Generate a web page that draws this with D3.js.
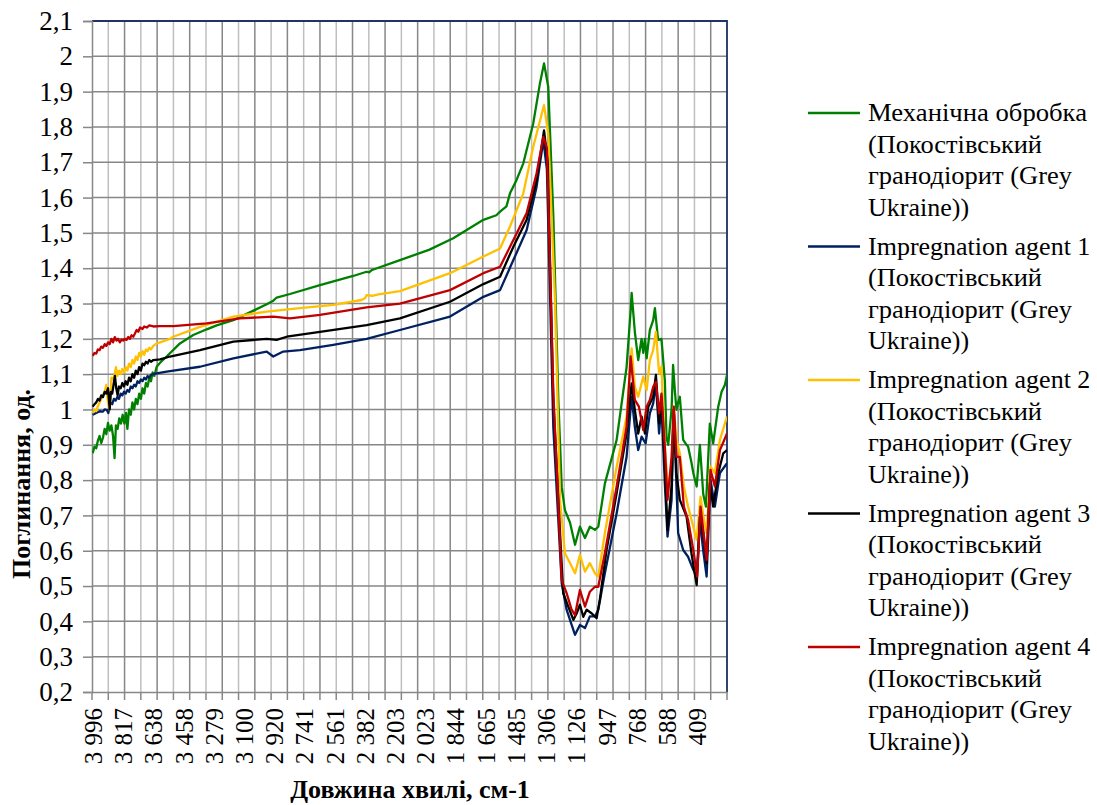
<!DOCTYPE html>
<html lang="uk">
<head>
  <meta charset="UTF-8">
  <title>Поглинання</title>
  <script src="https://d3js.org/d3.v7.min.js"></script>
  <style>
    body { margin: 0; background: #fff; }
    svg text { font-family: "Liberation Serif", "Times New Roman", serif; fill: #000; }
  </style>
</head>
<body>
  <svg id="chart" width="1097" height="805"></svg>

  <script>
    // x tick labels (wavenumbers, cm-1) and y tick labels
    const xLabels = ["3 996", "3 817", "3 638", "3 458", "3 279", "3 100", "2 920", "2 741", "2 561", "2 382",
      "2 203", "2 023", "1 844", "1 665", "1 485", "1 306", "1 126", "947", "768", "588", "409"];
    const yTicks = [0.2, 0.3, 0.4, 0.5, 0.6, 0.7, 0.8, 0.9, 1, 1.1, 1.2, 1.3, 1.4, 1.5, 1.6, 1.7, 1.8, 1.9, 2, 2.1];

    const seriesNames = [
      "Механічна обробка",
      "Impregnation agent 1",
      "Impregnation agent 2",
      "Impregnation agent 3",
      "Impregnation agent 4"
    ];
    const seriesColors = ["#008000", "#002060", "#ffc000", "#000000", "#c00000"];

    // Механічна обробка
    const mechWn = [3996, 3985, 3975, 3965, 3955, 3945, 3935, 3925, 3915, 3905, 3895, 3885, 3875, 3866, 3858, 3848, 3838,
      3828, 3818, 3808, 3798, 3790, 3780, 3770, 3760, 3750, 3740, 3730, 3720, 3710, 3700, 3690, 3680, 3670, 3660, 3650,
      3640, 3630, 3616, 3600, 3580, 3557, 3478,
      3399, 3319, 3260, 3161, 3063, 2963, 2924, 2904, 2825, 2647, 2450, 2370, 2355, 2338, 2172, 2000, 1856, 1677,
      1600, 1578, 1540, 1519, 1480, 1440, 1381, 1341, 1317, 1292, 1262, 1242, 1232, 1212, 1193, 1163, 1133, 1104,
      1074, 1045, 1015, 995, 956, 886, 827, 803, 797, 778, 758, 738, 728, 718, 708, 689, 669, 659, 640, 620, 600,
      590, 580, 560, 551, 540, 531, 521, 511, 491, 471, 462, 442, 431, 411, 392, 372, 356, 333, 313, 283, 263, 243, 231];
    const mechAbs = [0.876, 0.895, 0.89, 0.912, 0.925, 0.905, 0.92, 0.945, 0.93, 0.962, 0.94, 0.955, 0.925, 0.862, 0.955, 0.945, 0.975,
      0.96, 0.985, 0.96, 0.99, 0.945, 1.0, 0.985, 1.02, 1.0, 1.03, 1.015, 1.045, 1.03, 1.06, 1.045, 1.075, 1.065, 1.09, 1.08,
      1.105, 1.095, 1.121, 1.13, 1.14, 1.15, 1.187,
      1.211, 1.227, 1.238, 1.253, 1.275, 1.298, 1.308, 1.317, 1.327, 1.352, 1.378, 1.39, 1.388, 1.395, 1.423, 1.452, 1.485, 1.537,
      1.55, 1.56, 1.575, 1.612, 1.65, 1.697, 1.81, 1.924, 1.98, 1.914, 1.55, 1.2, 1.027, 0.78, 0.715, 0.68, 0.617, 0.668,
      0.636, 0.668, 0.659, 0.668, 0.79, 0.914, 1.12, 1.28, 1.33, 1.22, 1.14, 1.2, 1.16, 1.2, 1.145, 1.225, 1.253, 1.287, 1.197, 1.2, 1.083,
      0.92, 0.9, 1.0, 1.126, 1.05, 0.999, 1.02, 1.036, 0.914, 0.9, 0.895, 0.85, 0.82, 0.782, 0.9, 0.76, 0.725, 0.96, 0.904, 1.008, 1.05, 1.07, 1.098];

    // Impregnation agent 1
    const agent1Wn = [3996, 3975, 3955, 3935, 3925, 3913, 3903, 3893, 3880, 3870, 3860, 3850, 3840, 3830, 3820, 3810, 3800,
      3790, 3780, 3770, 3760, 3750, 3740, 3730, 3720, 3710, 3700, 3690, 3680, 3670, 3660, 3650, 3636, 3616, 3557,
      3359, 3161, 2963, 2924, 2865, 2766,
      2568, 2370, 2172, 1875, 1677, 1578, 1499, 1420, 1361, 1321, 1300, 1262, 1212, 1183, 1153, 1133, 1104, 1074, 1045,
      1015, 995, 956, 886, 827, 797, 778, 758, 738, 714, 689, 669, 653, 634, 620, 600, 584, 560, 547, 521, 491, 462, 431,
      411, 392, 372, 352, 329, 303, 273, 231];
    const agent1Abs = [0.985, 0.99, 0.995, 0.994, 1.0, 0.999, 0.99, 1.02, 1.015, 1.03, 1.025, 1.035, 1.03, 1.045, 1.04, 1.05, 1.045,
      1.055, 1.05, 1.065, 1.06, 1.07, 1.065, 1.08, 1.075, 1.085, 1.08, 1.09, 1.085, 1.095, 1.09, 1.098, 1.1, 1.102, 1.107,
      1.121, 1.145, 1.164, 1.15, 1.164, 1.168,
      1.183, 1.2, 1.225, 1.263, 1.319, 1.338, 1.423, 1.508, 1.631, 1.763, 1.68, 0.95, 0.508, 0.433, 0.39, 0.362, 0.39, 0.381, 0.414,
      0.414, 0.433, 0.536, 0.706, 0.866, 1.036, 0.951, 0.885, 0.923, 0.904, 0.989, 1.017, 1.074, 0.932, 1.017, 0.791, 0.64, 0.744, 0.999, 0.65, 0.602, 0.583, 0.546,
      0.527, 0.687, 0.6, 0.527, 0.801, 0.725, 0.82, 0.848];

    // Impregnation agent 2
    const agent2Wn = [3996, 3985, 3975, 3965, 3955, 3945, 3935, 3925, 3915, 3905, 3895, 3885, 3875, 3865, 3858, 3850, 3840,
      3830, 3820, 3810, 3800, 3790, 3780, 3770, 3760, 3750, 3740, 3730, 3720, 3710, 3700, 3690, 3680, 3670, 3660, 3650,
      3636, 3616, 3596, 3537, 3518,
      3359, 3161, 2963, 2766, 2568, 2400, 2380, 2370, 2338, 2300, 2172, 1875, 1677, 1578, 1519, 1440, 1381, 1317, 1292,
      1252, 1222, 1193, 1163, 1133, 1104, 1074, 1045, 1015, 995, 956, 886, 827, 797, 778, 758, 728, 708, 689, 669, 653,
      634, 620, 600, 584, 560, 547, 531, 511, 487, 462, 431, 411, 388, 372, 352, 329, 303, 273, 231];
    const agent2Abs = [0.99, 1.0, 0.995, 1.01, 1.02, 1.03, 1.04, 1.05, 1.07, 1.02, 1.0, 1.09, 1.085, 1.1, 1.12, 1.095, 1.11,
      1.1, 1.115, 1.105, 1.12, 1.11, 1.13, 1.12, 1.14, 1.13, 1.15, 1.14, 1.16, 1.15, 1.165, 1.155, 1.17, 1.165, 1.175, 1.17,
      1.18, 1.187, 1.19, 1.2, 1.206,
      1.234, 1.263, 1.277, 1.287, 1.296, 1.31, 1.315, 1.324, 1.322, 1.326, 1.335, 1.386, 1.433, 1.456, 1.518, 1.612, 1.744, 1.862, 1.78,
      1.31, 0.744, 0.593, 0.565, 0.536, 0.588, 0.541, 0.565, 0.536, 0.527, 0.65, 0.838, 0.98, 1.173, 1.064, 1.036, 1.093, 1.055, 1.14, 1.168, 1.22,
      1.102, 1.121, 0.895, 0.791, 0.82, 1.008, 0.914, 0.876, 0.782, 0.725, 0.668, 0.631, 0.753, 0.7, 0.65, 0.838, 0.82, 0.914, 0.98];

    // Impregnation agent 3
    const agent3Wn = [3996, 3985, 3975, 3965, 3955, 3945, 3935, 3925, 3915, 3905, 3895, 3888, 3880, 3872, 3864, 3856, 3848,
      3840, 3830, 3820, 3810, 3800, 3790, 3780, 3770, 3760, 3750, 3740, 3730, 3720, 3710, 3700, 3690, 3680, 3670, 3660,
      3650, 3636, 3596, 3537, 3359, 3161, 2963, 2904,
      2844, 2647, 2370, 2172, 1875, 1677, 1578, 1499, 1420, 1361, 1317, 1295, 1262, 1222, 1203, 1173, 1143, 1123, 1104, 1084,
      1064, 1035, 1005, 986, 946, 886, 827, 797, 778, 758, 738, 718, 698, 669, 653, 634, 620, 600, 584, 560, 547, 531, 511,
      471, 442, 411, 392, 372, 352, 333, 313, 283, 253, 231];
    const agent3Abs = [1.008, 1.015, 1.02, 1.03, 1.025, 1.04, 1.035, 1.05, 1.045, 1.06, 1.0, 1.05, 1.045, 1.07, 1.095, 1.06, 1.04,
      1.065, 1.06, 1.075, 1.065, 1.08, 1.07, 1.09, 1.08, 1.1, 1.09, 1.11, 1.1, 1.12, 1.11, 1.13, 1.125, 1.135, 1.13, 1.14,
      1.135, 1.14, 1.142, 1.15, 1.168, 1.192, 1.2, 1.197,
      1.206, 1.22, 1.239, 1.258, 1.305, 1.355, 1.376, 1.461, 1.537, 1.65, 1.79, 1.7, 1.027, 0.65, 0.48, 0.442, 0.404, 0.423, 0.447, 0.413,
      0.433, 0.423, 0.409, 0.461, 0.602, 0.763, 0.932, 1.074, 0.999, 0.932, 0.98, 0.932, 1.008, 1.036, 1.098, 0.961, 1.036, 0.838, 0.659, 0.782, 0.999, 0.82, 0.744,
      0.697, 0.593, 0.503, 0.697, 0.65, 0.565, 0.791, 0.725, 0.82, 0.876, 0.885];

    // Impregnation agent 4
    const agent4Wn = [3996, 3985, 3975, 3965, 3955, 3945, 3935, 3925, 3915, 3905, 3895, 3885, 3875, 3865, 3855, 3845, 3835,
      3825, 3815, 3805, 3795, 3785, 3775, 3765, 3755, 3745, 3735, 3725, 3715, 3700, 3690, 3675, 3660, 3636, 3600, 3518,
      3319, 3122, 2924, 2825, 2647,
      2370, 2172, 1875, 1677, 1578, 1499, 1420, 1361, 1321, 1300, 1262, 1212, 1183, 1153, 1133, 1104, 1074, 1045, 1015, 995,
      956, 886, 827, 803, 778, 754, 728, 708, 689, 669, 653, 634, 620, 600, 584, 560, 547, 531, 511, 487, 462, 431, 408,
      388, 372, 352, 329, 303, 273, 231];
    const agent4Abs = [1.152, 1.16, 1.158, 1.17, 1.168, 1.178, 1.175, 1.185, 1.18, 1.19, 1.185, 1.2, 1.19, 1.205, 1.195, 1.2, 1.19,
      1.198, 1.195, 1.2, 1.197, 1.205, 1.2, 1.21, 1.206, 1.215, 1.225, 1.22, 1.232, 1.228, 1.235, 1.232, 1.238, 1.235, 1.236, 1.236,
      1.244, 1.258, 1.263, 1.258, 1.268,
      1.289, 1.3, 1.338, 1.386, 1.404, 1.48, 1.556, 1.669, 1.772, 1.74, 1.05, 0.517, 0.48, 0.433, 0.418, 0.489, 0.442, 0.484, 0.498, 0.498,
      0.593, 0.782, 0.951, 1.15, 1.027, 1.008, 0.942, 1.008, 1.027, 1.064, 1.078, 0.989, 1.045, 0.895, 0.744, 0.866, 1.008, 0.866, 0.866, 0.725, 0.687, 0.602, 0.527,
      0.725, 0.66, 0.574, 0.829, 0.782, 0.885, 0.932];

    const seriesWn = [mechWn, agent1Wn, agent2Wn, agent3Wn, agent4Wn];
    const seriesAbs = [mechAbs, agent1Abs, agent2Abs, agent3Abs, agent4Abs];

    const plotLeft = 92, plotRight = 727, plotTop = 21, plotBottom = 692;

    const svg = d3.select("#chart");

    const x = d3.scaleLinear().domain([4000, 231]).range([plotLeft, plotRight]);
    const y = d3.scaleLinear().domain([0.2, 2.1]).range([plotBottom, plotTop]);
    // tick / gridline positions of the category axis (39 intervals, major every 2nd)
    const gridX = d3.scaleLinear().domain([0, 39]).range([plotLeft, plotRight]);
    const gridIdx = d3.range(0, 40);

    // vertical gridlines
    svg.append("g")
      .selectAll("line")
      .data(gridIdx.filter(i => i % 2 === 1))
      .join("line")
      .attr("x1", d => gridX(d)).attr("x2", d => gridX(d))
      .attr("y1", plotTop).attr("y2", plotBottom)
      .attr("stroke", "#bfbfbf").attr("stroke-width", 1.5);
    svg.append("g")
      .selectAll("line")
      .data(gridIdx.filter(i => i % 2 === 0 && i > 0))
      .join("line")
      .attr("x1", d => gridX(d)).attr("x2", d => gridX(d))
      .attr("y1", plotTop).attr("y2", plotBottom)
      .attr("stroke", "#878787").attr("stroke-width", 1.5);

    // horizontal gridlines
    svg.append("g")
      .selectAll("line")
      .data(yTicks.slice(1))
      .join("line")
      .attr("x1", plotLeft).attr("x2", plotRight)
      .attr("y1", d => y(d)).attr("y2", d => y(d))
      .attr("stroke", "#878787").attr("stroke-width", 1.5);

    // plot border (top / right)
    svg.append("path")
      .attr("d", `M${plotLeft},${plotTop}H${plotRight}V${plotBottom}`)
      .attr("fill", "none").attr("stroke", "#1f3368").attr("stroke-width", 1.8);

    // y axis
    const yAxis = svg.append("g")
      .attr("transform", `translate(${plotLeft},0)`)
      .call(d3.axisLeft(y).tickValues(yTicks).tickSize(9).tickPadding(10)
        .tickFormat(d => String(d).replace(".", ",")));
    yAxis.select(".domain").attr("stroke", "#878787").attr("stroke-width", 1.5);
    yAxis.selectAll(".tick line").attr("stroke", "#878787").attr("stroke-width", 1.5);
    yAxis.selectAll("text").attr("font-size", 27).attr("font-family", "Liberation Serif").attr("fill", "#000");

    // x axis: tick marks at grid positions
    svg.append("g")
      .selectAll("line")
      .data(gridIdx)
      .join("line")
      .attr("x1", d => gridX(d)).attr("x2", d => gridX(d))
      .attr("y1", plotBottom).attr("y2", plotBottom + 8)
      .attr("stroke", "#878787").attr("stroke-width", 1.5);

    const xAxis = svg.append("g")
      .attr("transform", `translate(0,${plotBottom})`)
      .call(d3.axisBottom(x)
        .tickValues(xLabels.map(s => +s.replace(/\s/g, "")))
        .tickSize(0)
        .tickFormat((d, i) => xLabels[i]));
    xAxis.select(".domain").attr("stroke", "#878787").attr("stroke-width", 1.5);
    xAxis.selectAll("text")
      .attr("font-size", 25).attr("font-family", "Liberation Serif").attr("fill", "#000")
      .attr("text-anchor", "end")
      .attr("transform", "rotate(-90)")
      .attr("x", -16).attr("y", 0).attr("dy", "0.35em");

    // series lines
    const line = d3.line()
      .x(d => x(d[0]))
      .y(d => y(d[1]))
      .curve(d3.curveLinear);

    svg.append("clipPath").attr("id", "clip")
      .append("rect").attr("x", plotLeft).attr("y", plotTop - 2)
      .attr("width", plotRight - plotLeft).attr("height", plotBottom - plotTop + 4);

    svg.append("g").attr("clip-path", "url(#clip)")
      .selectAll("path")
      .data(seriesNames.map((n, i) => d3.zip(seriesWn[i], seriesAbs[i])))
      .join("path")
      .attr("d", line)
      .attr("fill", "none")
      .attr("stroke", (d, i) => seriesColors[i])
      .attr("stroke-width", 2.3)
      .attr("stroke-linejoin", "round");

    // axis titles
    svg.append("text")
      .attr("x", 410).attr("y", 798)
      .attr("text-anchor", "middle")
      .attr("font-size", 26).attr("font-weight", "bold")
      .text("Довжина хвилі, см-1");

    svg.append("text")
      .attr("transform", "translate(30,484) rotate(-90)")
      .attr("text-anchor", "middle")
      .attr("font-size", 26).attr("font-weight", "bold")
      .text("Поглинання, од.");

    // legend (Cyrillic lines are set a bit wider, as in the reference)
    const cyrWidth = { "Механічна обробка": 219, "(Покостівський": 174, "гранодіорит (Grey": 204 };
    const legend = svg.append("g");
    const entry = legend.selectAll("g")
      .data(seriesNames)
      .join("g")
      .attr("transform", (d, i) => `translate(0,${121 + i * 133.5})`);
    entry.append("line")
      .attr("x1", 808).attr("x2", 860).attr("y1", -8).attr("y2", -8)
      .attr("stroke", (d, i) => seriesColors[i]).attr("stroke-width", 2.3);
    entry.selectAll("text")
      .data(d => [d, "(Покостівський", "гранодіорит (Grey", "Ukraine))"])
      .join("text")
      .attr("x", 868)
      .attr("y", (d, i) => i * 31.5)
      .attr("font-size", 26)
      .each(function (d) {
        if (cyrWidth[d]) d3.select(this).attr("textLength", cyrWidth[d]).attr("lengthAdjust", "spacingAndGlyphs");
      })
      .text(d => d);
  </script>
</body>
</html>
